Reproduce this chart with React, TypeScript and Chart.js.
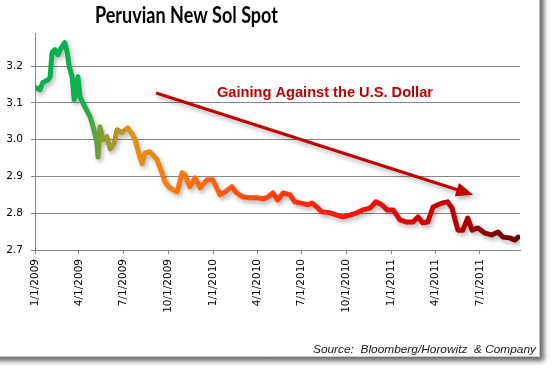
import React, { useEffect, useRef } from "react";
import { Chart, registerables } from "chart.js";

Chart.register(...registerables);

// Days since 1/1/2009
const dayOffsets = [
  2, 10, 16, 27, 31, 35, 41, 47, 55, 61, 66, 70, 76, 80, 84, 88, 92, 102, 113, 119,
  127, 129, 133, 139, 147, 154, 162, 168, 178, 190, 199, 205, 213, 219, 225, 235, 244, 250, 260, 266,
  276, 291, 301, 307, 317, 328, 338, 352, 364, 379, 389, 403, 413, 426, 440, 454, 467, 477, 487, 497,
  508, 522, 532, 542, 559, 567, 577, 587, 604, 618, 630, 645, 659, 671, 686, 698, 710, 721, 733, 743,
  747, 761, 774, 784, 794, 804, 815, 825, 835, 845, 854, 860, 866, 876, 886, 895, 907, 921, 935, 948,
  958, 972, 983, 989,
];
const solRates = [
  3.141, 3.136, 3.155, 3.163, 3.171, 3.237, 3.245, 3.231, 3.253, 3.264, 3.237, 3.199, 3.171, 3.109, 3.131, 3.171, 3.117, 3.09, 3.062, 3.035,
  2.99, 2.953, 3.035, 3.0, 3.008, 2.975, 2.99, 3.027, 3.019, 3.032, 3.015, 3.0, 2.96, 2.935, 2.964, 2.967, 2.955, 2.945, 2.91, 2.885,
  2.869, 2.858, 2.91, 2.904, 2.872, 2.896, 2.869, 2.891, 2.891, 2.85, 2.858, 2.872, 2.855, 2.844, 2.842, 2.842, 2.839, 2.844, 2.855, 2.836,
  2.855, 2.85, 2.831, 2.828, 2.823, 2.828, 2.817, 2.804, 2.801, 2.795, 2.79, 2.795, 2.801, 2.809, 2.814, 2.831, 2.823, 2.809, 2.809, 2.79,
  2.782, 2.776, 2.776, 2.79, 2.774, 2.776, 2.817, 2.823, 2.828, 2.831, 2.814, 2.782, 2.754, 2.754, 2.787, 2.754, 2.76, 2.746, 2.741, 2.749,
  2.735, 2.733, 2.727, 2.735,
];

const tickDays = [0, 90, 181, 273, 365, 455, 546, 638, 730, 820, 911];
const tickLabels = [
  "1/1/2009", "4/1/2009", "7/1/2009", "10/1/2009", "1/1/2010", "4/1/2010",
  "7/1/2010", "10/1/2010", "1/1/2011", "4/1/2011", "7/1/2011",
];
const yTicks = [2.7, 2.8, 2.9, 3.0, 3.1, 3.2];
const Y_MIN = 2.7;
const Y_MAX = 3.29;
const X_MAX = 993;

const arrowFrom = { day: 248, value: 3.127 };
const arrowTo = { day: 897, value: 2.85 };

const titleText = "Peruvian New Sol Spot";
const noteText = "Gaining Against the U.S. Dollar";
const sourceText = "Source:  Bloomberg/Horowitz  & Company";

const gradientStops: [number, string][] = [
  [0, "#00b050"],
  [0.1, "#10b04c"],
  [0.14, "#8c9c2c"],
  [0.2, "#e09018"],
  [0.28, "#ff7a10"],
  [0.45, "#ff4a10"],
  [0.62, "#ff1a0a"],
  [0.75, "#e00808"],
  [0.85, "#c00000"],
  [0.95, "#800000"],
  [1, "#700000"],
];

function fitText(ctx: CanvasRenderingContext2D, text: string, x: number, y: number, width: number) {
  const w = ctx.measureText(text).width;
  ctx.save();
  ctx.translate(x, y);
  ctx.scale(width / w, 1);
  ctx.textAlign = "left";
  ctx.textBaseline = "alphabetic";
  ctx.fillText(text, 0, 0);
  ctx.restore();
}

export default function App() {
  const canvasRef = useRef<HTMLCanvasElement | null>(null);

  useEffect(() => {
    const canvas = canvasRef.current;
    if (!canvas) return;

    let gradCache: CanvasGradient | null = null;
    let gradKey = "";

    const framePlugin = {
      id: "frame",
      beforeDraw(chart: any) {
        const ctx = chart.ctx as CanvasRenderingContext2D;
        ctx.save();
        ctx.fillStyle = "#ffffff";
        ctx.fillRect(0, 0, chart.width, chart.height);
        ctx.shadowColor = "rgba(0,0,0,0.6)";
        ctx.shadowOffsetX = 4;
        ctx.shadowOffsetY = 4;
        ctx.shadowBlur = 5;
        ctx.fillRect(-10, -10, 550, 367);
        ctx.restore();
        ctx.save();
        ctx.strokeStyle = "#c8c8c8";
        ctx.lineWidth = 1;
        ctx.beginPath();
        ctx.moveTo(539.5, 0);
        ctx.lineTo(539.5, 356.5);
        ctx.lineTo(0, 356.5);
        ctx.stroke();
        ctx.restore();
      },
    };

    const shadowPlugin = {
      id: "lineShadow",
      beforeDatasetDraw(chart: any) {
        const ctx = chart.ctx as CanvasRenderingContext2D;
        ctx.save();
        ctx.shadowColor = "rgba(0,0,0,0.28)";
        ctx.shadowOffsetX = 2;
        ctx.shadowOffsetY = 3;
        ctx.shadowBlur = 4;
      },
      afterDatasetDraw(chart: any) {
        chart.ctx.restore();
      },
    };

    const annotationPlugin = {
      id: "annotations",
      afterDatasetsDraw(chart: any) {
        const ctx = chart.ctx as CanvasRenderingContext2D;
        const xs = chart.scales.x;
        const ys = chart.scales.y;
        const x1 = xs.getPixelForValue(arrowFrom.day);
        const y1 = ys.getPixelForValue(arrowFrom.value);
        const x2 = xs.getPixelForValue(arrowTo.day);
        const y2 = ys.getPixelForValue(arrowTo.value);
        const ang = Math.atan2(y2 - y1, x2 - x1);
        const headLen = 17;
        const headHalf = 7;
        const bx = x2 - headLen * Math.cos(ang);
        const by = y2 - headLen * Math.sin(ang);
        ctx.save();
        ctx.shadowColor = "rgba(0,0,0,0.3)";
        ctx.shadowOffsetX = 2;
        ctx.shadowOffsetY = 3;
        ctx.shadowBlur = 4;
        ctx.strokeStyle = "#c00000";
        ctx.fillStyle = "#c00000";
        ctx.lineWidth = 3;
        ctx.beginPath();
        ctx.moveTo(x1, y1);
        ctx.lineTo(bx + 2 * Math.cos(ang), by + 2 * Math.sin(ang));
        ctx.stroke();
        ctx.beginPath();
        ctx.moveTo(x2, y2);
        ctx.lineTo(bx + headHalf * Math.sin(ang), by - headHalf * Math.cos(ang));
        ctx.lineTo(bx - headHalf * Math.sin(ang), by + headHalf * Math.cos(ang));
        ctx.closePath();
        ctx.fill();
        ctx.restore();

        ctx.save();
        ctx.fillStyle = "#c00000";
        ctx.font = "bold 14px 'Liberation Sans'";
        fitText(ctx, noteText, 217, 97, 216);
        ctx.fillStyle = "#000000";
        ctx.font = "bold 22px Lato";
        fitText(ctx, titleText, 95, 23, 183);
        ctx.fillStyle = "#1a1a1a";
        ctx.font = "italic 11px 'Liberation Sans'";
        fitText(ctx, sourceText, 313, 353, 223);
        ctx.restore();
      },
    };

    const chart = new Chart(canvas, {
      type: "line",
      data: {
        datasets: [
          {
            data: dayOffsets.map((d, i) => ({ x: d, y: solRates[i] })),
            borderColor: (c: any) => {
              const ch = c.chart;
              const area = ch.chartArea;
              if (!area) return "#ff4a10";
              const key = `${area.left}-${area.right}`;
              if (!gradCache || gradKey !== key) {
                const g = ch.ctx.createLinearGradient(area.left, 0, area.right, 0);
                gradientStops.forEach(([p, col]) => g.addColorStop(p, col));
                gradCache = g;
                gradKey = key;
              }
              return gradCache;
            },
            borderWidth: 5,
            pointRadius: 0,
            tension: 0,
            fill: false,
            borderJoinStyle: "round",
            borderCapStyle: "round",
          } as any,
        ],
      },
      options: {
        responsive: false,
        devicePixelRatio: 1,
        animation: false,
        layout: { padding: { top: 33, right: 36, left: 0, bottom: 0 } },
        plugins: {
          legend: { display: false },
          title: { display: false },
          tooltip: { enabled: false },
        },
        scales: {
          x: {
            type: "linear",
            min: 0,
            max: X_MAX,
            afterBuildTicks: (s: any) => {
              s.ticks = tickDays.map((v) => ({ value: v }));
            },
            afterFit: (s: any) => {
              s.height = 122;
            },
            ticks: {
              autoSkip: false,
              minRotation: 90,
              maxRotation: 90,
              padding: 5,
              color: "#000000",
              font: { family: "'DejaVu Sans'", size: 10.5 },
              callback: (_v: any, i: number) => tickLabels[i],
            },
            grid: {
              drawOnChartArea: false,
              drawTicks: true,
              tickLength: 4,
              color: "#868686",
            },
            border: { display: true, color: "#868686", width: 1 },
          },
          y: {
            type: "linear",
            min: Y_MIN,
            max: Y_MAX,
            afterBuildTicks: (s: any) => {
              s.ticks = yTicks.map((v) => ({ value: v }));
            },
            afterFit: (s: any) => {
              s.width = 35;
            },
            ticks: {
              padding: 8,
              color: "#000000",
              font: { family: "'DejaVu Sans'", size: 10.5 },
              callback: (v: any) => Number(v).toFixed(1),
            },
            grid: {
              color: "#868686",
              lineWidth: 1,
              tickLength: 4,
            },
            border: { display: true, color: "#868686", width: 1 },
          },
        },
      } as any,
      plugins: [framePlugin, shadowPlugin, annotationPlugin],
    });

    return () => {
      chart.destroy();
    };
  }, []);

  return (
    <div style={{ position: "fixed", left: 0, top: 0, width: 556, height: 372, background: "#fff" }}>
      <canvas ref={canvasRef} width={556} height={372} style={{ display: "block", width: 556, height: 372 }} />
    </div>
  );
}
